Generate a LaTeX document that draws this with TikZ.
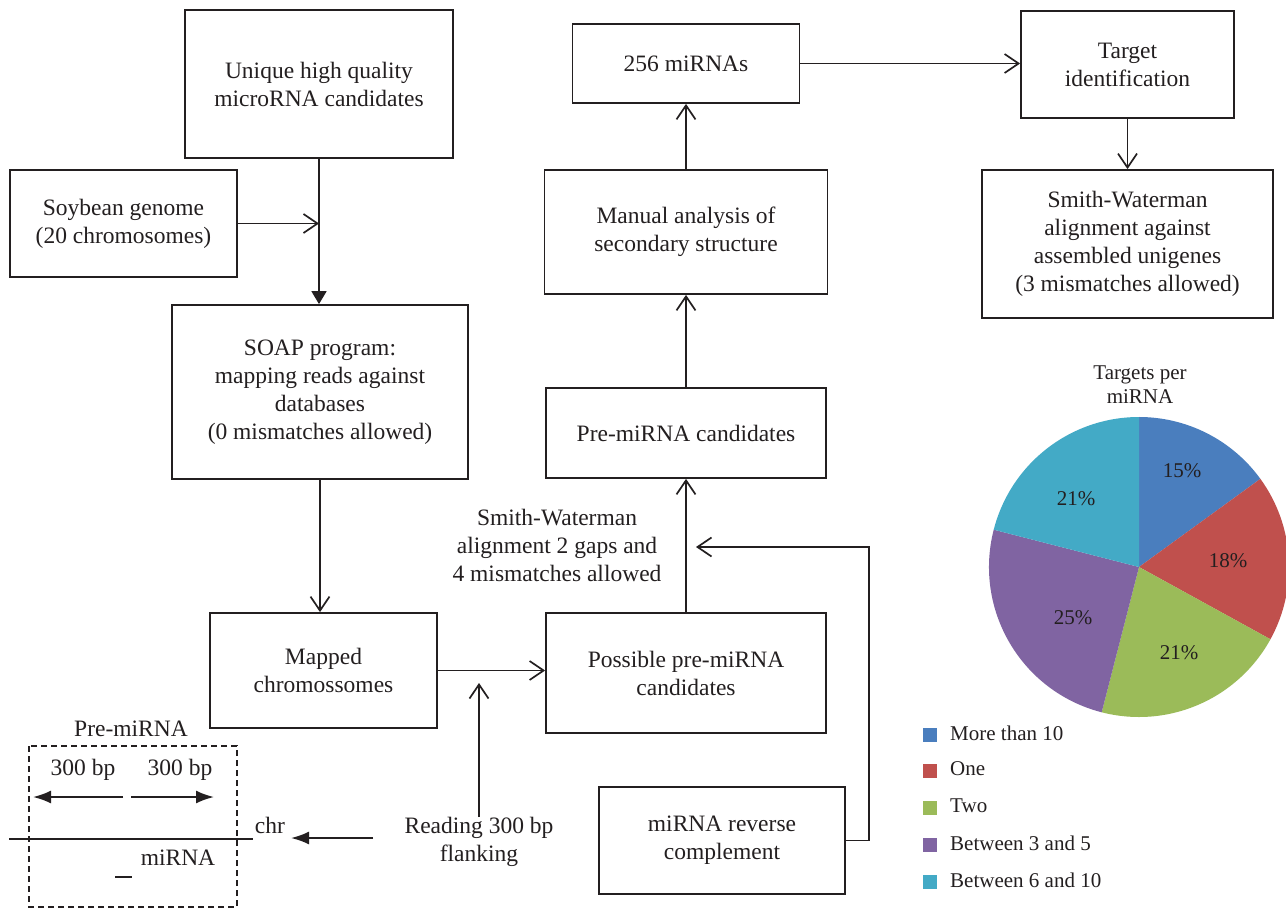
\documentclass[tikz,border=0pt]{standalone}
\usepackage{fontspec}
\setmainfont{Liberation Serif}
\usetikzlibrary{arrows.meta}
\definecolor{txt}{RGB}{35,31,32}
\definecolor{pblue}{RGB}{74,126,190}
\definecolor{pred}{RGB}{192,80,77}
\definecolor{pgreen}{RGB}{155,187,89}
\definecolor{ppurple}{RGB}{128,100,162}
\definecolor{pcyan}{RGB}{67,170,198}
\newcommand\fsMain{\fontsize{23.5pt}{28pt}\selectfont}
\newcommand\fsSmall{\fontsize{21pt}{24pt}\selectfont}
\begin{document}
\begin{tikzpicture}[x=1pt,y=-1pt,
  box/.style={draw=txt, line width=1.8pt, align=center, inner sep=0pt, font=\fsMain, text=txt},
  lbl/.style={align=center, inner sep=0pt, font=\fsMain, text=txt},
  slbl/.style={align=center, inner sep=0pt, font=\fsSmall, text=txt},
  conn/.style={draw=txt, line width=1.8pt, -{Straight Barb[length=14pt,width=19pt,line width=1.7pt]}},
  fconn/.style={draw=txt, line width=1.8pt, -{Triangle[length=13pt,width=15pt]}},
  bconn/.style={draw=txt, line width=2pt, -{Latex[length=18pt,width=13pt]}},
  legsq/.style={fill=#1, minimum size=14pt, inner sep=0pt}]
\useasboundingbox (0,0) rectangle (1286,909);
\fill[white] (0,0) rectangle (1286,909);

% boxes
\node[box, minimum width=268pt, minimum height=148pt] (unique) at (319,84) {Unique high quality\\microRNA candidates};
\node[box, minimum width=227pt, minimum height=107pt] (soy) at (123.5,223.5) {Soybean genome\\(20 chromosomes)};
\node[box, minimum width=296pt, minimum height=174pt] (soap) at (320,392) {SOAP program:\\mapping reads against\\databases\\(0 mismatches allowed)};
\node[box, minimum width=227pt, minimum height=115pt] (mapped) at (323.5,670.5) {Mapped\\chromossomes};
\node[box, minimum width=280pt, minimum height=120pt] (possible) at (686,673) {Possible pre-miRNA\\candidates};
\node[box, minimum width=280pt, minimum height=90pt] (pre) at (686,433) {Pre-miRNA candidates};
\node[box, minimum width=283pt, minimum height=124pt] (manual) at (686,232) {Manual analysis of\\secondary structure};
\node[box, minimum width=227pt, minimum height=79pt] (m256) at (686,63.5) {256 miRNAs};
\node[box, minimum width=213pt, minimum height=107pt] (target) at (1127.5,64.5) {Target\\identification};
\node[box, minimum width=291pt, minimum height=148pt] (smith) at (1127.5,244) {Smith-Waterman\\alignment against\\assembled unigenes\\(3 mismatches allowed)};
\node[box, minimum width=246pt, minimum height=107pt] (rev) at (722,840.5) {miRNA reverse\\complement};

% labels
\node[lbl] (sw) at (557,545) {Smith-Waterman\\alignment 2 gaps and\\4 mismatches allowed};
\node[lbl] (reading) at (479,842) {Reading 300 bp\\flanking};

% connectors
\draw[fconn] (unique.south) -- (unique.south |- soap.north);
\draw[conn] (soy.east) -- (soy.east -| unique.south);
\draw[conn] (soap.south) -- (soap.south |- mapped.north);
\draw[conn] (mapped.east) -- (mapped.east -| possible.west);
\coordinate (readtip) at (479,683);
\draw[conn] (reading.north) -- (readtip);
\draw[conn] (possible.north) -- (pre.south);
\coordinate (revturn) at (869,840.5);
\coordinate (revtip) at (696,547);
\draw[conn] (rev.east) -- (revturn) |- (revtip);
\draw[conn] (pre.north) -- (manual.south);
\draw[conn] (manual.north) -- (m256.south);
\draw[conn] (m256.east) -- (m256.east -| target.west);
\draw[conn] (target.south) -- (smith.north);

% pre-miRNA sketch
\draw[txt, line width=1.5pt, dash pattern=on 6pt off 4pt] (29,746) rectangle (237,907);
\node[lbl] (prelbl) at (131,729) {Pre-miRNA};
\node[lbl] (bp1) at (83,770) {300 bp};
\node[lbl] (bp2) at (180,770) {300 bp};
\coordinate (la1) at (123,797);
\coordinate (la2) at (33,797);
\coordinate (ra1) at (131,797);
\coordinate (ra2) at (214,797);
\draw[bconn] (la1) -- (la2);
\draw[bconn] (ra1) -- (ra2);
\coordinate (chr1) at (9,839);
\coordinate (chr2) at (253,839);
\draw[txt, line width=1.8pt] (chr1) -- (chr2);
\node[lbl] (chr) at (270,825) {chr};
\node[lbl] (mirna) at (178,858) {miRNA};
\coordinate (d1) at (115,877);
\coordinate (d2) at (132,877);
\draw[txt, line width=1.8pt] (d1) -- (d2);
\coordinate (ca1) at (373,838);
\coordinate (ca2) at (291,838);
\draw[bconn] (ca1) -- (ca2);

% pie chart
\begin{scope}[shift={(1139,567)}, yscale=-1]
  \fill[pblue] (0,0) -- (90:150) arc[start angle=90, end angle=36, radius=150] -- cycle;
  \fill[pred] (0,0) -- (36:150) arc[start angle=36, end angle=-28.8, radius=150] -- cycle;
  \fill[pgreen] (0,0) -- (-28.8:150) arc[start angle=-28.8, end angle=-104.4, radius=150] -- cycle;
  \fill[ppurple] (0,0) -- (-104.4:150) arc[start angle=-104.4, end angle=-194.4, radius=150] -- cycle;
  \fill[pcyan] (0,0) -- (-194.4:150) arc[start angle=-194.4, end angle=-270, radius=150] -- cycle;
\end{scope}
\node[slbl] (p15) at (1182,471) {15\%};
\node[slbl] (p18) at (1228,561) {18\%};
\node[slbl] (p21g) at (1179,653) {21\%};
\node[slbl] (p25) at (1073,618) {25\%};
\node[slbl] (p21c) at (1076,499) {21\%};
\node[slbl] (ptitle) at (1140,385) {Targets per\\miRNA};

% legend
\node[legsq=pblue] (l1) at (930,735) {};
\node[legsq=pred] (l2) at (930,771) {};
\node[legsq=pgreen] (l3) at (930,808) {};
\node[legsq=ppurple] (l4) at (930,845) {};
\node[legsq=pcyan] (l5) at (930,882) {};
\node[slbl, anchor=west] (t1) at (950,733) {More than 10};
\node[slbl, anchor=west] (t2) at (950,769) {One};
\node[slbl, anchor=west] (t3) at (950,806) {Two};
\node[slbl, anchor=west] (t4) at (950,843) {Between 3 and 5};
\node[slbl, anchor=west] (t5) at (950,880) {Between 6 and 10};
\end{tikzpicture}
\end{document}
